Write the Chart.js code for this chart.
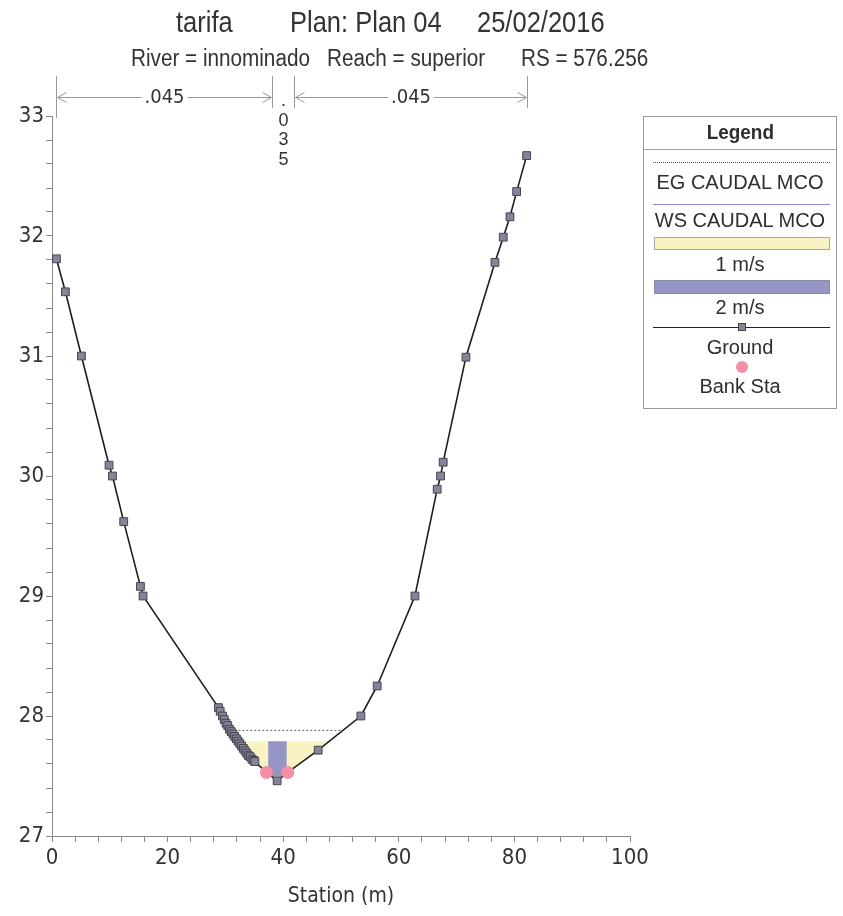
<!DOCTYPE html>
<html><head><meta charset="utf-8">
<script src="https://cdn.jsdelivr.net/npm/chart.js@4.4.1/dist/chart.umd.min.js"></script>
<style>
body{margin:0;background:#fff;}
#wrap{position:relative;width:843px;height:916px;overflow:hidden;background:#fff;}
#c{position:absolute;left:0;top:0;}
.t{position:absolute;white-space:pre;color:#333;font-family:'Liberation Sans',Arial,sans-serif;transform-origin:0 0;}
.tt{font-size:30px;top:5px;line-height:34px;transform:scaleX(0.85);}
.st{font-size:23px;top:45px;line-height:26px;transform:scaleX(0.9);}
#legend{position:absolute;left:643px;top:116px;width:192px;height:291px;border:1px solid #9a9a9a;font-family:'Liberation Sans',Arial,sans-serif;font-size:20px;color:#2e2e2e;}
#legend .lt{position:absolute;left:0;width:100%;text-align:center;height:24px;line-height:24px;}
#legend .ln{position:absolute;left:9px;right:6px;height:0;}
#legend .bar{position:absolute;left:10px;right:6px;box-sizing:border-box;}
</style></head>
<body>
<div id="wrap">
<canvas id="c" width="843" height="916"></canvas>
<div class="t tt" style="left:176px">tarifa</div>
<div class="t tt" style="left:290px">Plan: Plan 04</div>
<div class="t tt" style="left:477px">25/02/2016</div>
<div class="t st" style="left:131px">River = innominado</div>
<div class="t st" style="left:327px">Reach = superior</div>
<div class="t st" style="left:521px">RS = 576.256</div>
<div id="legend">
  <div class="lt" style="top:3px;font-weight:bold;font-size:21px;"><span style="display:inline-block;transform:scaleX(0.9)">Legend</span></div>
  <div class="ln" style="top:32px;left:0;right:0;border-top:1px solid #a0a0a0;"></div>
  <div class="ln" style="top:45px;border-top:1px dotted #555;"></div>
  <div class="lt" style="top:53px">EG CAUDAL MCO</div>
  <div class="ln" style="top:87px;border-top:1px solid #8a8ae6;"></div>
  <div class="lt" style="top:91px">WS CAUDAL MCO</div>
  <div class="bar" style="top:120px;height:13px;background:#f9f3c3;border:1px solid #a8a8a0;"></div>
  <div class="lt" style="top:135px">1 m/s</div>
  <div class="bar" style="top:163px;height:14px;background:#9696c4;border:1px solid #8a8aa8;"></div>
  <div class="lt" style="top:178px">2 m/s</div>
  <div class="ln" style="top:210px;border-top:1px solid #222;"></div>
  <div style="position:absolute;left:94px;top:206px;width:8px;height:8px;background:#85859a;border:1px solid #444;box-sizing:border-box;"></div>
  <div class="lt" style="top:218px">Ground</div>
  <div style="position:absolute;left:92px;top:244px;width:12px;height:12px;border-radius:50%;background:#f48fa6;"></div>
  <div class="lt" style="top:257px">Bank Sta</div>
</div>
</div>
<script>
// ---- data ----
const groundStation = [0.76, 2.32, 5.09, 9.87, 10.46, 12.41, 15.3, 15.75, 28.8, 29.1, 29.5, 29.8, 30.1, 30.4, 30.7, 31.0, 31.3, 31.6, 31.9, 32.2, 32.5, 32.8, 33.1, 33.4, 33.7, 34.0, 34.3, 34.6, 34.9, 35.1, 37.1, 38.95, 40.8, 46.05, 53.44, 56.26, 62.79, 66.64, 67.23, 67.68, 71.61, 76.63, 78.07, 79.23, 80.39, 82.12];
const groundElev    = [31.81, 31.535, 31.0, 30.09, 30.0, 29.62, 29.08, 29.0, 28.07, 28.04, 28.0, 27.97, 27.94, 27.92, 27.89, 27.87, 27.85, 27.83, 27.81, 27.79, 27.77, 27.75, 27.73, 27.71, 27.69, 27.67, 27.66, 27.64, 27.63, 27.62, 27.53, 27.46, 27.53, 27.715, 28.0, 28.25, 29.0, 29.89, 30.0, 30.115, 30.99, 31.78, 31.99, 32.16, 32.37, 32.67];
const bankStation = [37.1, 40.8];
const bankElev    = [27.53, 27.53];
const wsElev = 27.79;          // WS CAUDAL MCO
const egElev = 27.88;          // EG CAUDAL MCO
const vel2Station = [37.4, 40.6];  // 2 m/s band limits
const vel2Bottom = 27.50;
const nBreakStation = [0.76, 38.1, 41.9, 82.1];
const nValueLabels = ['.045', '.035', '.045'];
const xTickLabels = [0, 20, 40, 60, 80, 100];
const yTickLabels = [27, 28, 29, 30, 31, 32, 33];

// ---- derived tables ----
const ground = groundStation.map((s, i) => ({x: s, y: groundElev[i]}));
function crossings(level) {
  const out = [];
  for (let i = 0; i < ground.length - 1; i++) {
    const a = ground[i], b = ground[i + 1];
    if ((a.y - level) * (b.y - level) < 0) {
      const t = (level - a.y) / (b.y - a.y);
      out.push({x: a.x + t * (b.x - a.x), y: level});
    }
  }
  return out;
}
function waterPolygon(level) {
  const pts = [];
  for (let i = 0; i < ground.length - 1; i++) {
    const a = ground[i], b = ground[i + 1];
    if (a.y <= level) pts.push({x: a.x, y: a.y});
    if ((a.y - level) * (b.y - level) < 0) {
      const t = (level - a.y) / (b.y - a.y);
      pts.push({x: a.x + t * (b.x - a.x), y: level});
    }
  }
  pts.push({...pts[0]});
  return pts;
}
const wsX = crossings(wsElev), egX = crossings(egElev);
const wsLine = [wsX[0], wsX[wsX.length - 1]];
const egLine = [egX[0], egX[egX.length - 1]];
const vel1Poly = waterPolygon(wsElev);
const vel2Poly = [
  {x: vel2Station[0], y: wsElev}, {x: vel2Station[0], y: vel2Bottom},
  {x: vel2Station[1], y: vel2Bottom}, {x: vel2Station[1], y: wsElev}, {x: vel2Station[0], y: wsElev}
];
const bank = bankStation.map((s, i) => ({x: s, y: bankElev[i]}));

const NARROW = "'Liberation Sans Narrow','Arial Narrow','DejaVu Sans Condensed',sans-serif";

const nPlugin = {
  id: 'nvals',
  afterDraw(chart) {
    const ctx = chart.ctx, xs = chart.scales.x;
    const px = nBreakStation.map(s => Math.round(xs.getPixelForValue(s)) + 0.5);
    ctx.save();
    ctx.strokeStyle = '#9a9a9a';
    ctx.lineWidth = 1;
    px.forEach((p, i) => {
      ctx.beginPath(); ctx.moveTo(p, 76); ctx.lineTo(p, i === 0 ? 118 : 108); ctx.stroke();
    });
    const yA = 97.5;
    for (let i = 0; i < nValueLabels.length; i++) {
      const a = px[i], b = px[i + 1], mid = (a + b) / 2, lbl = nValueLabels[i];
      if (b - a > 60) {
        ctx.font = '20px ' + NARROW;
        const w = ctx.measureText(lbl).width;
        ctx.beginPath();
        ctx.moveTo(a + 1, yA); ctx.lineTo(mid - w / 2 - 3, yA);
        ctx.moveTo(mid + w / 2 + 3, yA); ctx.lineTo(b - 1, yA);
        ctx.moveTo(a + 10, yA - 5); ctx.lineTo(a + 1, yA); ctx.lineTo(a + 10, yA + 5);
        ctx.moveTo(b - 10, yA - 5); ctx.lineTo(b - 1, yA); ctx.lineTo(b - 10, yA + 5);
        ctx.stroke();
        ctx.fillStyle = '#333';
        ctx.textAlign = 'center'; ctx.textBaseline = 'middle';
        ctx.fillText(lbl, mid, yA);
      } else {
        ctx.font = '18px ' + "'Liberation Sans',Arial,sans-serif";
        ctx.fillStyle = '#333';
        ctx.textAlign = 'center'; ctx.textBaseline = 'alphabetic';
        lbl.split('').forEach((ch, k) => ctx.fillText(ch, mid, 106 + 19.5 * k));
      }
    }
    ctx.restore();
  }
};

new Chart(document.getElementById('c'), {
  type: 'scatter',
  data: {
    datasets: [
      {label: '1 m/s', data: vel1Poly, showLine: true, fill: 'shape', backgroundColor: '#f9f3c3', borderWidth: 0, pointRadius: 0, order: 6},
      {label: '2 m/s', data: vel2Poly, showLine: true, fill: 'shape', backgroundColor: '#9696c4', borderWidth: 0, pointRadius: 0, order: 5},
      {label: 'EG CAUDAL MCO', data: egLine, showLine: true, borderColor: '#666', borderWidth: 1, borderDash: [2, 2], pointRadius: 0, order: 4},
      {label: 'WS CAUDAL MCO', data: wsLine, showLine: true, borderColor: '#7c7cd8', borderWidth: 1, pointRadius: 0, order: 3},
      {label: 'Ground', data: ground, showLine: true, borderColor: '#1e1e1e', borderWidth: 1.6,
       pointStyle: 'rect', pointRadius: 5.5, pointBackgroundColor: '#85859a', pointBorderColor: '#454550', pointBorderWidth: 1, order: 2},
      {label: 'Bank Sta', data: bank, showLine: false, pointStyle: 'circle', pointRadius: 6.5,
       pointBackgroundColor: '#f48fa6', pointBorderColor: '#f48fa6', pointBorderWidth: 0, order: 1}
    ]
  },
  options: {
    responsive: false,
    animation: false,
    events: [],
    layout: {padding: {left: 0, right: 213, top: 116, bottom: 0}},
    elements: {line: {tension: 0}},
    plugins: {legend: {display: false}, tooltip: {enabled: false}, title: {display: false}},
    scales: {
      x: {
        type: 'linear', min: 0, max: 100,
        afterFit: s => { s.height = 80; },
        border: {display: true, color: '#8a8a8a', width: 1},
        grid: {drawOnChartArea: false, drawTicks: true, tickLength: 6, color: '#8a8a8a'},
        ticks: {stepSize: 4, autoSkip: false, maxRotation: 0, padding: 3, color: '#333',
                font: {family: NARROW, size: 22},
                callback: v => xTickLabels.includes(Math.round(v)) && Math.abs(v - Math.round(v)) < 1e-6 ? String(Math.round(v)) : ''},
        title: {display: true, text: 'Station (m)', color: '#333', font: {family: NARROW, size: 21}, padding: {top: 4, bottom: 7}}
      },
      y: {
        type: 'linear', min: 27, max: 33,
        afterFit: s => { s.width = 52; },
        border: {display: true, color: '#8a8a8a', width: 1},
        grid: {drawOnChartArea: false, drawTicks: true, tickLength: 6, color: '#8a8a8a'},
        ticks: {stepSize: 0.2, autoSkip: false, padding: 2, color: '#333',
                font: {family: NARROW, size: 22},
                callback: v => (Math.abs(v - Math.round(v)) < 1e-6 && yTickLabels.includes(Math.round(v))) ? String(Math.round(v)) : ''}
      }
    }
  },
  plugins: [nPlugin]
});
</script>
</body></html>
